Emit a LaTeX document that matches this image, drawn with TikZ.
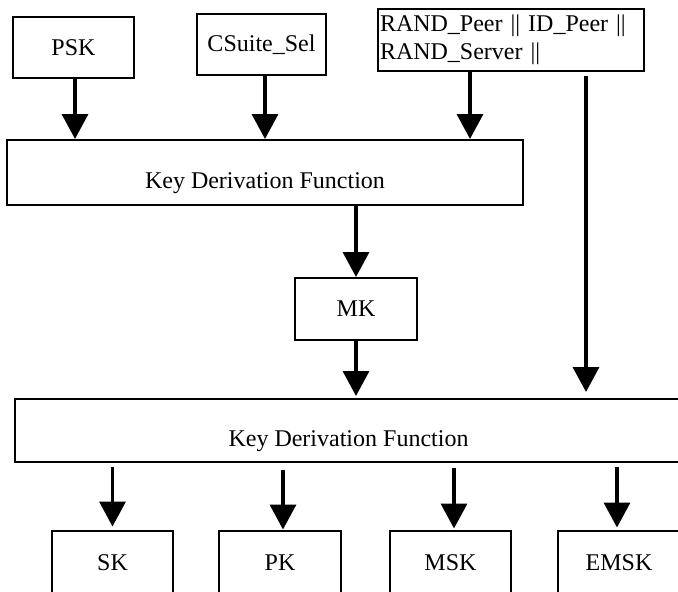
\documentclass[tikz,border=0pt]{standalone}
\usepackage{fontspec}
\setmainfont{Liberation Serif}
\usetikzlibrary{arrows.meta}
\begin{document}
\begin{tikzpicture}[x=1pt,y=-1pt,
  txt/.style={font=\fontsize{24}{28}\selectfont},
  box/.style={draw, line width=2pt, inner sep=0pt, txt},
  arr/.style={line width=3.5pt, -{Triangle[width=26pt,length=25pt]}}]
\useasboundingbox (0,0) rectangle (678,592);

% input blocks
\node[box, minimum width=121pt, minimum height=61pt] (psk) at (73.5,47.5) {PSK};
\node[box, minimum width=129pt, minimum height=61pt] (csuite) at (261.5,44.5) {CSuite\_Sel};
\node[box, anchor=north west, minimum height=62pt, text width=262pt, align=left,
      inner xsep=2pt] (rand) at (377,8) {RAND\_Peer || ID\_Peer ||\\RAND\_Server ||};

% first derivation stage
\node[box, minimum width=516pt, minimum height=65pt,
      label={[name=kdf1t, txt, yshift=-11pt]center:Key Derivation Function}] (kdf1) at (265,172.5) {};
\node[box, minimum width=122pt, minimum height=62pt] (mk) at (356,309) {MK};

% second derivation stage
\node[box, minimum width=667pt, minimum height=63pt,
      label={[name=kdf2t, txt, yshift=-10.5pt]center:Key Derivation Function}] (kdf2) at (348.5,430.5) {};

% derived keys
\node[box, minimum width=121pt, minimum height=64pt] (sk) at (112.5,562.5) {SK};
\node[box, minimum width=122pt, minimum height=64pt] (pk) at (280,562.5) {PK};
\node[box, minimum width=121pt, minimum height=64pt] (msk) at (450.5,562.5) {MSK};
\node[box, minimum width=122pt, minimum height=64pt] (emsk) at (619,562.5) {EMSK};

% arrow start points
\coordinate (a1) at ([xshift=1.5pt]psk.south);
\coordinate (a2) at ([xshift=3.5pt]csuite.south);
\coordinate (a3) at ([xshift=93pt]rand.south west);
\coordinate (a4) at ([xshift=209pt]rand.south west);
\coordinate (b1) at (mk.north |- kdf1.south);
\coordinate (c1) at (sk.north |- kdf2.south);
\coordinate (c2) at ([xshift=3pt]pk.north |- kdf2.south);
\coordinate (c3) at ([xshift=3.5pt]msk.north |- kdf2.south);
\coordinate (c4) at ([xshift=-2pt]emsk.north |- kdf2.south);

% inputs into the first stage
\draw[arr] (a1) -- (a1 |- kdf1.north);
\draw[arr] (a2) -- (a2 |- kdf1.north);
\draw[arr] (a3) -- (a3 |- kdf1.north);
% nonces and identities straight into the second stage
\draw[arr, shorten <=4pt, shorten >=6pt] (a4) -- (a4 |- kdf2.north);

% master key
\draw[arr] (b1) -- (mk.north);
\draw[arr, shorten >=2pt] (mk.south) -- (mk.south |- kdf2.north);

% outputs
\draw[arr, shorten <=4pt, shorten >=3pt] (c1) -- (c1 |- sk.north);
\draw[arr, shorten <=7pt] (c2) -- (c2 |- pk.north);
\draw[arr, shorten <=5pt, shorten >=1pt] (c3) -- (c3 |- msk.north);
\draw[arr, shorten <=4pt, shorten >=2pt] (c4) -- (c4 |- emsk.north);
\end{tikzpicture}
\end{document}
